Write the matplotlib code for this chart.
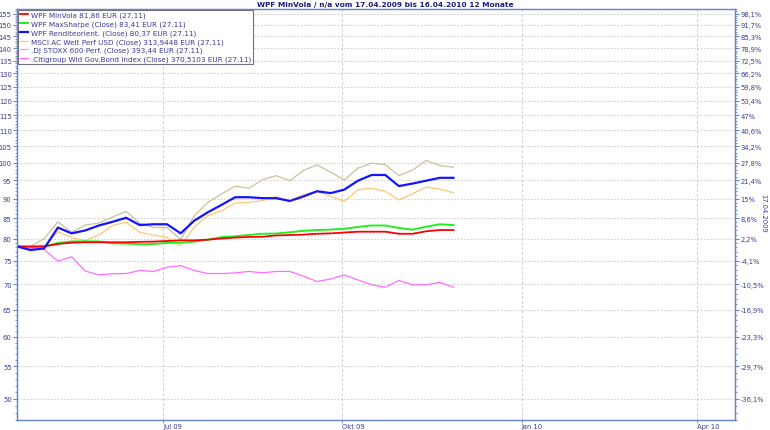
import matplotlib
matplotlib.use("Agg")
import matplotlib.pyplot as plt
from matplotlib.ticker import FixedLocator, NullFormatter
import pandas as pd

# weekly closes, normalised to the start value of the first fund
dates = pd.date_range("2009-04-17", periods=33, freq="7D")

minvola = [78.24, 78.24, 78.24, 78.8, 79.1, 79.2, 79.2, 79.2, 79.2, 79.3, 79.35,
           79.5, 79.65, 79.65, 79.8, 80.1, 80.3, 80.45, 80.5, 80.8, 80.9, 81.0,
           81.2, 81.3, 81.5, 81.7, 81.7, 81.7, 81.2, 81.2, 81.8, 82.1, 82.1]
maxsharpe = [78.24, 78.05, 78.24, 79.05, 79.4, 79.4, 79.4, 78.97, 78.9, 78.75, 78.8,
             79.05, 79.1, 79.35, 79.82, 80.4, 80.6, 80.93, 81.2, 81.25, 81.56, 81.9,
             82.1, 82.2, 82.4, 82.85, 83.2, 83.2, 82.6, 82.2, 82.9, 83.5, 83.3]
rendite = [78.24, 77.4, 77.8, 82.7, 81.3, 82.0, 83.2, 84.1, 85.1, 83.3, 83.5,
           83.5, 81.3, 84.4, 86.5, 88.4, 90.4, 90.4, 90.15, 90.15, 89.4, 90.6,
           92.0, 91.5, 92.45, 94.9, 96.5, 96.5, 93.4, 94.1, 94.9, 95.7, 95.7]
msci = [78.24, 78.24, 78.4, 81.7, 80.3, 79.6, 80.9, 83.2, 84.0, 81.56, 80.9,
        80.3, 78.4, 82.8, 85.65, 86.9, 88.9, 89.05, 89.5, 90.6, 89.5, 91.1,
        92.0, 90.6, 89.3, 92.45, 92.8, 92.0, 89.7, 91.3, 93.1, 92.6, 91.6]
stoxx = [78.24, 78.24, 80.1, 84.1, 81.56, 83.3, 83.8, 85.3, 86.7, 83.8, 82.7,
         82.7, 79.8, 85.65, 89.05, 91.3, 93.4, 92.8, 95.2, 96.3, 94.9, 97.8,
         99.4, 97.3, 95.1, 98.5, 99.9, 99.5, 96.3, 97.9, 100.7, 99.2, 98.7]
citi = [78.24, 77.8, 77.5, 74.9, 75.9, 72.8, 71.96, 72.2, 72.25, 72.9, 72.7,
        73.6, 73.96, 72.9, 72.25, 72.25, 72.4, 72.7, 72.4, 72.7, 72.7, 71.7,
        70.6, 71.1, 71.96, 70.9, 69.9, 69.4, 70.8, 69.9, 69.9, 70.4, 69.4]

labels = ["WPF MinVola 81,86 EUR (27.11)",
          "WPF MaxSharpe (Close) 83,41 EUR (27.11)",
          "WPF Renditeorient. (Close) 80,37 EUR (27.11)",
          "MSCI AC Welt Perf USD (Close) 313,9448 EUR (27.11)",
          ".DJ STOXX 600 Perf. (Close) 393,44 EUR (27.11)",
          ".Citigroup Wld Gov.Bond Index (Close) 370,5103 EUR (27.11)"]

left_ticks = list(range(50, 160, 5))
right_labels = ["-36,1%", "-29,7%", "-23,3%", "-16,9%", "-10,5%", "-4,1%", "2,2%",
                "8,6%", "15%", "21,4%", "27,8%", "34,2%", "40,6%", "47%", "53,4%",
                "59,8%", "66,2%", "72,5%", "78,9%", "85,3%", "91,7%", "98,1%"]
x_ticks = ["2009-07-01", "2009-10-01", "2010-01-01", "2010-04-01"]
x_ticklabels = ["Jul 09", "Okt 09", "Jan 10", "Apr 10"]

axis_col = "#6a86c4"
text_col = "#3a3a96"
fs = 4.9

fig = plt.figure(figsize=(7.7, 4.31), dpi=100)
ax = fig.add_axes([17/770, 10/431, (735-17)/770, (421-10)/431])

series = [minvola, maxsharpe, rendite, msci, stoxx, citi]
colors = ["#ff0000", "#22ee22", "#1414ff", "#ffc676", "#c9c29c", "#ff6cff"]
widths = [1.3, 1.4, 1.6, 0.9, 0.9, 0.9]
zorders = [7, 6, 8, 4, 3, 5]
for vals, c, w, z, lab in zip(series, colors, widths, zorders, labels):
    ax.plot(dates, vals, color=c, lw=w, label=lab, zorder=z)

ax.set_yscale("log")
ax.set_ylim(47.0, 157.1)
ax.set_xlim(pd.Timestamp("2009-04-17"), pd.Timestamp("2010-04-20 12:00"))

ax.yaxis.set_major_locator(FixedLocator(left_ticks))
ax.yaxis.set_minor_locator(FixedLocator(range(47, 158)))
ax.yaxis.set_major_formatter(plt.FixedFormatter([str(t) for t in left_ticks]))
ax.yaxis.set_minor_formatter(NullFormatter())

ax.set_xticks([pd.Timestamp(d) for d in x_ticks])
ax.set_xticklabels(x_ticklabels, ha="left")
ax.xaxis.set_minor_locator(FixedLocator([]))

ax.grid(True, axis="y", which="major", color="#d0d0d0", ls=(0, (1.5, 1.5)), lw=0.8)
ax.grid(True, axis="x", which="major", color="#d0d0d0", ls=(0, (3, 2)), lw=0.7)

for s in ax.spines.values():
    s.set_color(axis_col)
    s.set_linewidth(1.0)

ax.tick_params(axis="y", which="major", colors=axis_col, labelcolor=text_col,
               labelsize=fs, length=3, width=0.8, pad=0.8)
ax.tick_params(axis="x", which="major", colors=axis_col, labelcolor=text_col,
               labelsize=fs, length=2, width=0.6, pad=0.5)
ax.tick_params(axis="y", which="minor", colors=axis_col, length=1.5, width=0.6)

# right axis: percentage change against start date
ax2 = ax.twinx()
ax2.set_yscale("log")
ax2.set_ylim(ax.get_ylim())
ax2.yaxis.set_major_locator(FixedLocator(left_ticks))
ax2.yaxis.set_minor_locator(FixedLocator(range(47, 158)))
ax2.yaxis.set_major_formatter(plt.FixedFormatter(right_labels))
ax2.yaxis.set_minor_formatter(NullFormatter())
ax2.tick_params(axis="y", which="major", colors=axis_col, labelcolor=text_col,
                labelsize=fs, length=3, width=0.8, pad=1)
ax2.tick_params(axis="y", which="minor", colors=axis_col, length=1.5, width=0.6)
for s in ax2.spines.values():
    s.set_color(axis_col)
fig.text(763/770, 1 - 213/431, "17.04.2009", rotation=-90, color=text_col,
         fontsize=fs, ha="center", va="center")

leg = ax.legend(loc="upper left", bbox_to_anchor=(0.0, 1.0), fontsize=5.2,
                handlelength=1.1, handletextpad=0.4, borderpad=0.3,
                labelspacing=0.3, borderaxespad=0.1, fancybox=False,
                framealpha=1.0, edgecolor="#707080")
leg.get_frame().set_linewidth(0.8)
for t in leg.get_texts():
    t.set_color(text_col)
leg.set_zorder(20)

fig.text(0.5, 0.995, "WPF MinVola / n/a vom 17.04.2009 bis 16.04.2010 12 Monate",
         ha="center", va="top", fontsize=5.3, fontweight="bold", color="#1a1a80")

fig.savefig("out.png", dpi=100)
